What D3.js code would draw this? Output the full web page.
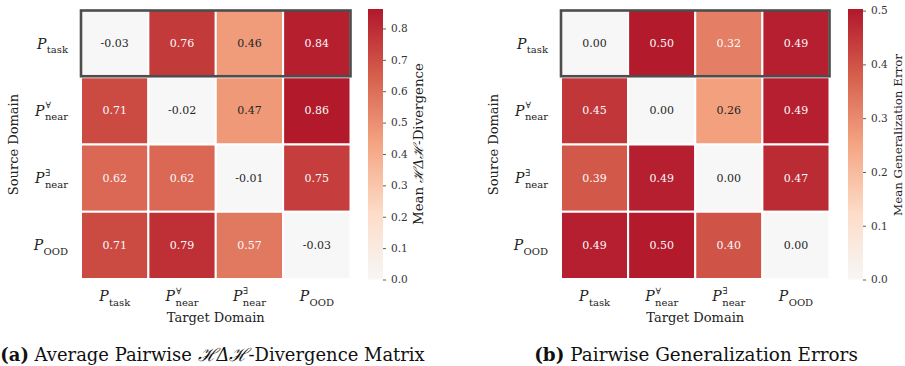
<!DOCTYPE html>
<html><head><meta charset="utf-8">
<script src="https://cdn.jsdelivr.net/npm/d3@7"></script>
<style>
body{margin:0;background:#fff;}
svg{display:block;font-family:"DejaVu Serif",serif;}
</style></head>
<body><svg id="c" width="905" height="366"></svg>
<script>
// ---- data ----
const domainBase = ["P","P","P","P"];
const domainSubs = ["task","near","near","OOD"];
const domainSups = ["","\u2200","\u2203",""];
const divergence = [
  [-0.03, 0.76, 0.46, 0.84],
  [0.71, -0.02, 0.47, 0.86],
  [0.62, 0.62, -0.01, 0.75],
  [0.71, 0.79, 0.57, -0.03]
];
const genError = [
  [0.00, 0.50, 0.32, 0.49],
  [0.45, 0.00, 0.26, 0.49],
  [0.39, 0.49, 0.00, 0.47],
  [0.49, 0.50, 0.40, 0.00]
];
const divTicks = [0,0.1,0.2,0.3,0.4,0.5,0.6,0.7,0.8];
const errTicks = [0,0.1,0.2,0.3,0.4,0.5];
const cmapColors = ["#f7f7f7","#fddbc7","#f4a582","#d6604d","#b2182b"];

const svg = d3.select("#c");
const defs = svg.append("defs");
const fmt = v => d3.format(".2f")(v).replace("\u2212","-");

function mathLabel(g, i){
  const t = g.append("g").attr("fill","#222");
  const p = t.append("text").attr("font-style","italic").attr("font-size",14).text(domainBase[i]);
  const pw = p.node().getComputedTextLength();
  const sx = pw + 0.5;
  const sub = t.append("text").attr("x",sx).attr("y",4.5).attr("font-size",10).text(domainSubs[i]);
  let w = sx + sub.node().getComputedTextLength();
  if (domainSups[i]) {
    const sup = t.append("text").attr("x",sx+0.5).attr("y",-7.5).attr("font-size",9).text(domainSups[i]);
    w = Math.max(w, sx + sup.node().getComputedTextLength());
  }
  return {node:t, width:w};
}

function fitText(sel, target){
  const fs = +sel.attr("font-size");
  const w = sel.node().getComputedTextLength();
  sel.attr("font-size", fs*target/w);
}

function heatmap(cfg){
  const {data, vmax, x0, x1, y0, y1, cbX, ticks, cbLabel, cbLabY, caption, capX, capW, id, ylabX, cbLabX} = cfg;
  const g = svg.append("g");
  const xs = d3.scaleBand().domain(d3.range(4)).range([x0,x1]);
  const ys = d3.scaleBand().domain(d3.range(4)).range([y0,y1]);
  const color = d3.scaleLinear()
    .domain(cmapColors.map((c,i)=>i/(cmapColors.length-1)*vmax))
    .range(cmapColors).interpolate(d3.interpolateRgb).clamp(true);
  const cells = [];
  data.forEach((row,r)=>row.forEach((v,c)=>cells.push({r,c,v})));
  g.selectAll("rect.cell").data(cells).join("rect")
    .attr("x",d=>xs(d.c)).attr("y",d=>ys(d.r))
    .attr("width",xs.bandwidth()).attr("height",ys.bandwidth())
    .attr("fill",d=>color(d.v)).attr("stroke","#fff").attr("stroke-width",2);
  g.selectAll("text.ann").data(cells).join("text")
    .attr("x",d=>xs(d.c)+xs.bandwidth()/2).attr("y",d=>ys(d.r)+ys.bandwidth()/2)
    .attr("text-anchor","middle").attr("dominant-baseline","central")
    .attr("font-size",11)
    .attr("fill",d=>{
      const c = d3.rgb(color(d.v));
      const lin = v=>{v/=255;return v<=0.03928?v/12.92:Math.pow((v+0.055)/1.055,2.4);};
      const L = 0.2126*lin(c.r)+0.7152*lin(c.g)+0.0722*lin(c.b);
      return L>0.408 ? "#262626" : "#fafafa";
    })
    .text(d=>fmt(d.v));
  // highlight first row
  g.append("rect").attr("x",x0).attr("y",y0+0.5).attr("width",x1-x0).attr("height",ys.bandwidth()-1.5)
    .attr("fill","none").attr("stroke","#4d4d4d").attr("stroke-width",2.6);
  // x tick labels
  d3.range(4).forEach(i=>{
    const m = mathLabel(g,i);
    m.node.attr("transform",`translate(${xs(i)+xs.bandwidth()/2 - m.width/2},301)`);
  });
  // y tick labels
  d3.range(4).forEach(i=>{
    const m = mathLabel(g,i);
    m.node.attr("transform",`translate(${x0-13-m.width},${ys(i)+ys.bandwidth()/2+5})`);
  });
  g.append("text").attr("x",(x0+x1)/2).attr("y",322).attr("text-anchor","middle")
    .attr("font-size",13).attr("fill","#222").text("Target Domain");
  g.append("text").attr("transform",`translate(${ylabX},${(y0+y1)/2}) rotate(-90)`)
    .attr("text-anchor","middle").attr("font-size",13).attr("fill","#222").text("Source Domain");
  // colorbar
  const cbTop = 9, cbBot = 279.5;
  const cs = d3.scaleLinear().domain([0,vmax]).range([cbBot,cbTop]);
  const grad = defs.append("linearGradient").attr("id",id).attr("x1",0).attr("y1",1).attr("x2",0).attr("y2",0);
  d3.range(0,1.0001,0.05).forEach(f=>grad.append("stop").attr("offset",f).attr("stop-color",color(f*vmax)));
  g.append("rect").attr("x",cbX).attr("y",cbTop).attr("width",15).attr("height",cbBot-cbTop).attr("fill",`url(#${id})`);
  const ax = g.append("g").attr("transform",`translate(${cbX+15},0)`)
    .call(d3.axisRight(cs).tickValues(ticks).tickFormat(d3.format(".1f")).tickSize(3).tickPadding(5));
  ax.select(".domain").remove();
  ax.selectAll("line").attr("stroke","#333").attr("stroke-width",0.8);
  ax.selectAll("text").attr("font-family","DejaVu Serif").attr("font-size",10.5).attr("fill","#333");
  const cl = g.append("text").attr("transform",`translate(${cbLabX},${cbLabY}) rotate(-90)`)
    .attr("text-anchor","middle").attr("font-size",12.5).attr("fill","#222").html(cbLabel);
  fitText(cl, 162);
  // caption
  const cap = g.append("text").attr("x",capX).attr("y",361).attr("text-anchor","middle")
    .attr("font-size",15).attr("fill","#111").html(caption);
  fitText(cap, capW);
}

heatmap({data:divergence, vmax:0.862, x0:81, x1:350.5, y0:10, y1:279, cbX:368, ticks:divTicks,
  cbLabel:'Mean <tspan font-style="italic">\u210B\u0394\u210B</tspan>-Divergence', cbLabY:144,
  caption:'<tspan font-weight="bold">(a)</tspan> Average Pairwise <tspan font-style="italic">\u210B\u0394\u210B</tspan>-Divergence Matrix',
  capX:212.5, capW:425, id:"gA", ylabX:18, cbLabX:422.5});
heatmap({data:genError, vmax:0.503, x0:561, x1:829.5, y0:10, y1:279, cbX:848, ticks:errTicks,
  cbLabel:'Mean Generalization Error', cbLabY:135,
  caption:'<tspan font-weight="bold">(b)</tspan> Pairwise Generalization Errors',
  capX:696, capW:324, id:"gB", ylabX:498, cbLabX:901.5});
</script></body></html>
